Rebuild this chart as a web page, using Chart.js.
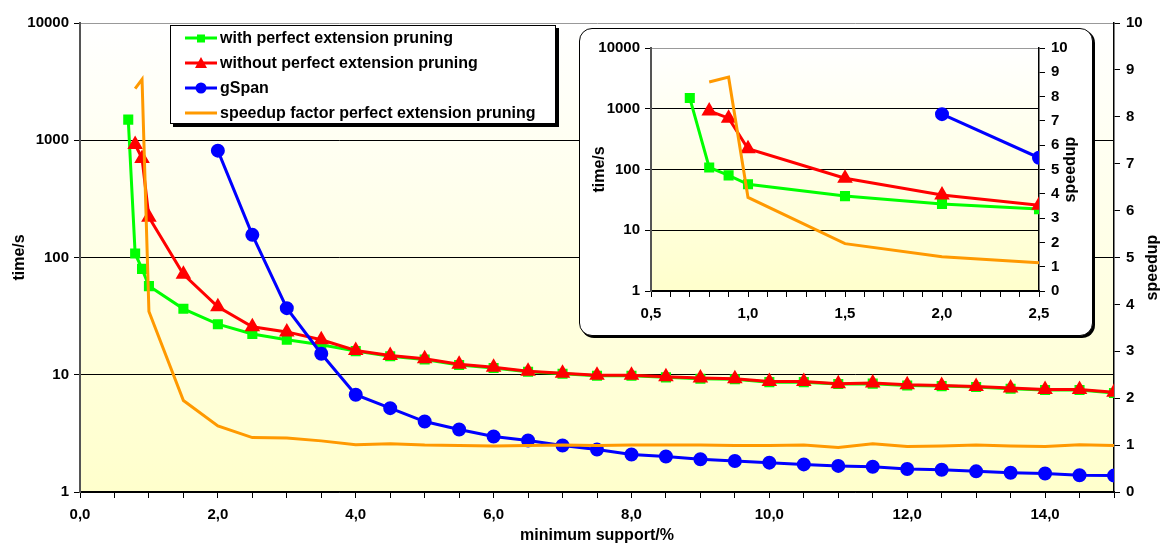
<!DOCTYPE html>
<html>
<head>
<meta charset="utf-8">
<script src="https://cdn.jsdelivr.net/npm/chart.js@4.4.0/dist/chart.umd.min.js"></script>
<style>
  body { margin: 0; background: #fff; }
  #wrap { position: relative; width: 1163px; height: 545px; overflow: hidden; font-family: "Liberation Sans", Arial, sans-serif; }
  #mainChart { position: absolute; left: 0; top: 0; }
  #legend { position: absolute; left: 170px; top: 25px; width: 386px; height: 99px; box-sizing: border-box;
            border: 1px solid #000; background: #fff; box-shadow: 3px 3px 0 #000; }
  .row { position: absolute; left: 0; height: 20px; display: flex; align-items: center;
         font-weight: bold; font-size: 16px; white-space: nowrap; color: #000; }
  .row svg { margin-left: 14px; margin-right: 3px; }
  #insetBox { position: absolute; left: 579px; top: 28px; width: 514px; height: 308px; box-sizing: border-box;
              border: 1px solid #000; border-radius: 13px; background: #fff; box-shadow: 2px 2px 0 #000; }
  #insetChart { position: absolute; left: 579px; top: 28px; }
</style>
</head>
<body>
<div id="wrap">
  <canvas id="mainChart" width="1163" height="545"></canvas>
  <div id="legend"></div>
  <div id="insetBox"></div>
  <canvas id="insetChart" width="514" height="308"></canvas>
</div>
<script>
// minimum support in %
var support = [0.7, 0.8, 0.9, 1.0, 1.5, 2.0, 2.5, 3.0, 3.5, 4.0, 4.5, 5.0, 5.5, 6.0, 6.5, 7.0, 7.5,
               8.0, 8.5, 9.0, 9.5, 10.0, 10.5, 11.0, 11.5, 12.0, 12.5, 13.0, 13.5, 14.0, 14.5, 15.0];
// time/s
var withPruning = [1500, 108, 80, 57, 36.5, 27, 22.3, 19.9, 18.0, 15.9, 14.4, 13.5, 12.1, 11.4, 10.6, 10.2, 9.8,
                   9.8, 9.5, 9.25, 9.15, 8.65, 8.65, 8.35, 8.4, 8.1, 8.0, 7.85, 7.6, 7.4, 7.4, 7.0];
var withoutPruning = [null, 920, 700, 220, 72, 38, 25.7, 23.2, 19.9, 16.1, 14.6, 13.7, 12.3, 11.6, 10.7, 10.3, 9.9,
                      9.9, 9.6, 9.37, 9.25, 8.77, 8.77, 8.4, 8.5, 8.2, 8.1, 7.95, 7.7, 7.5, 7.5, 7.1];
var gSpan = [null, null, null, null, null, 815, 156, 37, 15.1, 6.75, 5.19, 3.99, 3.41, 2.97, 2.75, 2.49, 2.30,
             2.09, 2.01, 1.90, 1.84, 1.78, 1.72, 1.67, 1.64, 1.57, 1.55, 1.50, 1.46, 1.44, 1.39, 1.38];
// speedup factor
var speedup = [null, 8.6, 8.8, 3.85, 1.95, 1.41, 1.16, 1.15, 1.09, 1.01, 1.03, 1.0, 0.99, 0.98, 0.99, 1.0, 0.99,
               1.0, 1.0, 1.0, 0.99, 0.99, 1.0, 0.95, 1.03, 0.97, 0.98, 1.0, 0.98, 0.97, 1.01, 0.99];

var seriesNames = ["with perfect extension pruning", "without perfect extension pruning", "gSpan",
                   "speedup factor perfect extension pruning"];
var timeTicks = [1, 10, 100, 1000, 10000];

Chart.defaults.font.family = '"Liberation Sans", Arial, sans-serif';
Chart.defaults.font.size = 15;
Chart.defaults.font.weight = 'bold';
Chart.defaults.color = '#000';

function points(vals, maxX) {
  var out = [];
  for (var i = 0; i < support.length; i++) {
    if (vals[i] === null || support[i] > maxX) continue;
    out.push({ x: support[i], y: vals[i] });
  }
  return out;
}

function makeDatasets(maxX) {
  return [
    { label: seriesNames[0], data: points(withPruning, maxX), borderColor: '#00ff00', backgroundColor: '#00ff00',
      pointStyle: 'rect', pointRadius: 5, borderWidth: 3, order: 3 },
    { label: seriesNames[1], data: points(withoutPruning, maxX), borderColor: '#ff0000', backgroundColor: '#ff0000',
      pointStyle: 'triangle', pointRadius: 6, borderWidth: 3, order: 2 },
    { label: seriesNames[2], data: points(gSpan, maxX), borderColor: '#0000ff', backgroundColor: '#0000ff',
      pointStyle: 'circle', pointRadius: 5.5, borderWidth: 3, order: 1 },
    { label: seriesNames[3], data: points(speedup, maxX), borderColor: '#ff9900', backgroundColor: '#ff9900',
      pointRadius: 0, borderWidth: 3, yAxisID: 'y2', order: 0 }
  ];
}

var plotBg = {
  id: 'plotBg',
  beforeDraw: function (chart) {
    var a = chart.chartArea, c = chart.ctx;
    var g = c.createLinearGradient(0, a.top, 0, a.bottom);
    g.addColorStop(0, '#ffffff');
    g.addColorStop(1, '#ffffcc');
    c.save();
    c.fillStyle = g;
    c.fillRect(a.left, a.top, a.right - a.left, a.bottom - a.top);
    c.restore();
  }
};

// right axis title, rotated like the left one
var rightTitle = {
  id: 'rightTitle',
  afterDraw: function (chart, args, opts) {
    var s = chart.scales.y2, c = chart.ctx;
    c.save();
    c.translate(s.left + opts.dx, (chart.chartArea.top + chart.chartArea.bottom) / 2 + opts.dy);
    c.rotate(-Math.PI / 2);
    c.font = 'bold 16px "Liberation Sans", Arial, sans-serif';
    c.fillStyle = '#000';
    c.textAlign = 'center';
    c.textBaseline = 'middle';
    c.fillText('speedup', 0, 0);
    c.restore();
  }
};

function makeOptions(cfg) {
  return {
    responsive: false,
    animation: false,
    events: [],
    layout: { padding: { top: cfg.top, left: 0, right: 0, bottom: 0 } },
    plugins: { legend: { display: false }, tooltip: { enabled: false }, rightTitle: { dx: cfg.titleDx, dy: cfg.titleDy } },
    elements: { line: { tension: 0 } },
    scales: {
      x: {
        type: 'linear', min: cfg.xMin, max: cfg.xMax,
        ticks: {
          stepSize: cfg.xStep, autoSkip: false, maxRotation: 0, padding: cfg.xPad,
          callback: function (v) {
            var r = v / cfg.xLabelStep;
            return Math.abs(r - Math.round(r)) < 1e-6 ? v.toFixed(1).replace('.', ',') : '';
          }
        },
        grid: { drawOnChartArea: false, tickLength: 6, tickColor: '#000' },
        border: { color: '#000', width: 1.5 },
        title: { display: cfg.xTitle !== '', text: cfg.xTitle, font: { size: 16, weight: 'bold' }, padding: { top: 0, bottom: 0 } },
        afterFit: function (s) { s.height = cfg.xHeight; }
      },
      y: {
        type: 'logarithmic', position: 'left', min: 1, max: 10000,
        afterBuildTicks: function (s) { s.ticks = timeTicks.map(function (v) { return { value: v }; }); },
        ticks: { padding: 5, callback: function (v) { return String(v); } },
        grid: {
          color: function (c) { return c.tick && c.tick.value === 10000 ? '#999' : '#000'; },
          tickColor: '#000', tickLength: 6, lineWidth: 1
        },
        border: { color: '#555', width: 2 },
        title: { display: true, text: 'time/s', font: { size: 16, weight: 'bold' }, padding: { top: cfg.yTitlePad, bottom: 0 } },
        afterFit: function (s) { s.width = cfg.leftW; }
      },
      y2: {
        type: 'linear', position: 'right', min: 0, max: 10,
        ticks: { stepSize: 1, padding: 6 },
        grid: { drawOnChartArea: false, tickLength: 6, tickColor: '#000' },
        border: { color: '#000', width: 1.5 },
        afterFit: function (s) { s.width = cfg.rightW; }
      }
    }
  };
}

new Chart(document.getElementById('mainChart'), {
  type: 'line',
  data: { datasets: makeDatasets(15) },
  options: makeOptions({ top: 23, xMin: 0, xMax: 15, xStep: 0.5, xLabelStep: 2, xPad: 8, xHeight: 53,
                         xTitle: 'minimum support/%', leftW: 80, rightW: 49, yTitlePad: 10, titleDx: 39, titleDy: 10 }),
  plugins: [plotBg, rightTitle]
});

new Chart(document.getElementById('insetChart'), {
  type: 'line',
  data: { datasets: makeDatasets(2.5) },
  options: makeOptions({ top: 20, xMin: 0.5, xMax: 2.5, xStep: 0.1, xLabelStep: 0.5, xPad: 8, xHeight: 45,
                         xTitle: '', leftW: 72, rightW: 54, yTitlePad: 11, titleDx: 32, titleDy: 0 }),
  plugins: [plotBg, rightTitle]
});

// legend box
var legendColors = ['#00ff00', '#ff0000', '#0000ff', '#ff9900'];
var legendMarks = [
  '<rect x="12" y="3.5" width="8" height="8" fill="#00ff00"/>',
  '<polygon points="16,1 22,12 10,12" fill="#ff0000"/>',
  '<circle cx="16" cy="7" r="5.5" fill="#0000ff"/>',
  ''
];
var legend = document.getElementById('legend');
seriesNames.forEach(function (name, i) {
  var row = document.createElement('div');
  row.className = 'row';
  row.style.top = (2 + i * 25) + 'px';
  row.innerHTML = '<svg width="32" height="14"><line x1="0" y1="7" x2="32" y2="7" stroke="' + legendColors[i] +
    '" stroke-width="3"/>' + legendMarks[i] + '</svg><span>' + name + '</span>';
  legend.appendChild(row);
});
</script>
</body>
</html>
